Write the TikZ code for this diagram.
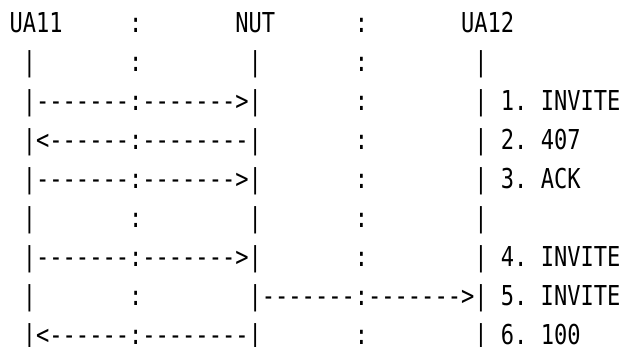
\documentclass[tikz,border=0pt]{standalone}
\usepackage{fontspec}
\usepackage{tikz}
\newfontfamily\asciifont[FakeStretch=0.805]{DejaVu Sans Mono}

\begin{document}
\begin{tikzpicture}[x=1pt,y=-1pt]
            \tikzset{
                row/.style={
                    anchor=base west,
                    inner sep=0pt,
                    font=\asciifont\fontsize{27.4}{38.9}\selectfont
                }
            }
            \useasboundingbox (0,0) rectangle (626,347);

            % Endpoints
            \node[row] (Hdr) at (9.4,33) {UA11~~~~~:~~~~~~~NUT~~~~~~:~~~~~~~UA12};
            \node[row] (Life_1) at (9.4,71.9) {~|~~~~~~~:~~~~~~~~|~~~~~~~:~~~~~~~~|};

            % First INVITE / 407 / ACK
            \node[row] (Msg_1) at (9.4,110.8) {~|-------:------->|~~~~~~~:~~~~~~~~|~1.~INVITE};
            \node[row] (Msg_2) at (9.4,149.7) {~|<------:--------|~~~~~~~:~~~~~~~~|~2.~407};
            \node[row] (Msg_3) at (9.4,188.6) {~|-------:------->|~~~~~~~:~~~~~~~~|~3.~ACK};
            \node[row] (Life_2) at (9.4,227.5) {~|~~~~~~~:~~~~~~~~|~~~~~~~:~~~~~~~~|};

            % Second INVITE, forwarded by NUT
            \node[row] (Msg_4) at (9.4,266.4) {~|-------:------->|~~~~~~~:~~~~~~~~|~4.~INVITE};
            \node[row] (Msg_5) at (9.4,305.3) {~|~~~~~~~:~~~~~~~~|-------:------->|~5.~INVITE};
            \node[row] (Msg_6) at (9.4,344.2) {~|<------:--------|~~~~~~~:~~~~~~~~|~6.~100};
        \end{tikzpicture}
\end{document}
